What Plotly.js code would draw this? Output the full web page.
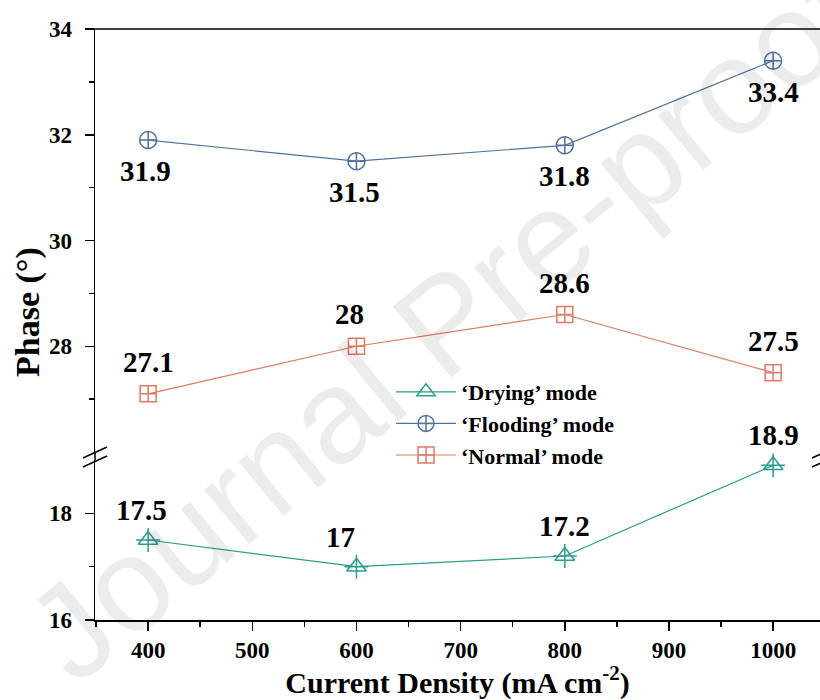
<!DOCTYPE html>
<html>
<head>
<meta charset="utf-8">
<script src="https://cdn.plot.ly/plotly-3.0.1.min.js"></script>
<style>html,body{margin:0;padding:0;background:#fff;}#chart{width:820px;height:700px;}</style>
</head>
<body>
<div id="chart"></div>
<script>
// Data
const currentDensity = [400, 600, 800, 1000];
const drying = [17.5, 17.0, 17.2, 18.9];
const flooding = [31.9, 31.5, 31.8, 33.4];
const normal = [27.1, 28.0, 28.6, 27.5];
const dryingLabels = ['17.5', '17', '17.2', '18.9'];
const floodingLabels = ['31.9', '31.5', '31.8', '33.4'];
const normalLabels = ['27.1', '28', '28.6', '27.5'];
const seriesNames = ['\u2018Drying\u2019 mode', '\u2018Flooding\u2019 mode', '\u2018Normal\u2019 mode'];
const xTicks = [400, 500, 600, 700, 800, 900, 1000];
const yLowTicks = [16, 18];
const yHighTicks = [28, 30, 32, 34];

// Styles (label offsets in px)
const dryShiftX = [-7, -16, 0, 0];
const floodShiftX = [-3, -2, 0, 0];
const normShiftX = [0, -7, 0, 0];

const cDry = '#2a9d8f', cFlood = '#4f72a0', cNorm = '#e07a62';
const serif = 'Liberation Serif, Times New Roman, serif';
const lblFont = {family: serif, size: 29, color: '#000', weight: 'bold'};

const traces = [
  {x: currentDensity, y: drying, name: seriesNames[0], mode: 'lines+markers',
   line: {color: cDry, width: 1.2},
   marker: {symbol: 'triangle-up-open', size: 17, color: cDry, line: {width: 1.5, color: cDry}},
   xaxis: 'x', yaxis: 'y', cliponaxis: false},
  {x: currentDensity, y: drying, mode: 'markers', showlegend: false, hoverinfo: 'skip',
   marker: {symbol: 'cross-thin-open', size: 17, color: cDry, line: {width: 1.5, color: cDry}},
   xaxis: 'x', yaxis: 'y', cliponaxis: false},
  {x: currentDensity, y: flooding, name: seriesNames[1], mode: 'lines+markers',
   line: {color: cFlood, width: 1.2},
   marker: {symbol: 'circle-cross-open', size: 17, color: cFlood, line: {width: 1.5, color: cFlood}},
   xaxis: 'x', yaxis: 'y2', cliponaxis: false},
  {x: currentDensity, y: normal, name: seriesNames[2], mode: 'lines+markers',
   line: {color: cNorm, width: 1.2},
   marker: {symbol: 'square-cross-open', size: 16, color: cNorm, line: {width: 1.5, color: cNorm}},
   xaxis: 'x', yaxis: 'y2', cliponaxis: false}
];

const L = 95, T = 29, W = 725, H = 591;
const px = v => (v - L) / W;
const py = v => (T + H - v) / H;
const tickFont = {family: serif, size: 23, color: '#000', weight: 'bold'};

const annotations = [
  {text: 'Phase (\u00b0)', xref: 'paper', yref: 'paper', x: px(28), y: py(312), xanchor: 'center', yanchor: 'middle', textangle: -90,
   showarrow: false, font: {family: serif, size: 34, color: '#000', weight: 'bold'}},
  {text: 'Journal Pre-proof', xref: 'paper', yref: 'paper', x: px(445), y: py(322), xanchor: 'center', yanchor: 'middle', textangle: -39.5,
   showarrow: false, font: {family: 'Liberation Sans, Arial, sans-serif', size: 134, color: 'rgba(0,0,0,0.075)'}}
];
function addLabels(xs, ys, labels, yaxis, yshift, xshifts) {
  xs.forEach((xv, i) => annotations.push({
    x: xv, y: ys[i], xref: 'x', yref: yaxis, text: labels[i], showarrow: false,
    xanchor: 'center', yanchor: 'middle', yshift: yshift, xshift: xshifts[i], font: lblFont
  }));
}
addLabels(currentDensity, drying, dryingLabels, 'y', 30, dryShiftX);
addLabels(currentDensity, flooding, floodingLabels, 'y2', -31, floodShiftX);
addLabels(currentDensity, normal, normalLabels, 'y2', 32, normShiftX);

const layout = {
  width: 820, height: 700,
  margin: {l: 95, r: 0, t: 29, b: 80},
  paper_bgcolor: '#fff', plot_bgcolor: 'rgba(0,0,0,0)',
  showlegend: true,
  legend: {x: px(391), y: py(371), xanchor: 'left', yanchor: 'top',
    bgcolor: 'rgba(0,0,0,0)', font: {family: serif, size: 22, color: '#000', weight: 'bold'},
    tracegroupgap: 0, itemwidth: 60},
  xaxis: {range: [349, 1045], anchor: 'y', showgrid: false, zeroline: false,
    showline: true, linecolor: '#000', linewidth: 1.5,
    tickmode: 'array', tickvals: xTicks, ticks: 'outside', ticklen: 9, tickwidth: 1.5, tickcolor: '#000',
    minor: {dtick: 50, ticks: 'outside', ticklen: 5, tickwidth: 1.5, tickcolor: '#000', tick0: 350},
    tickfont: tickFont,
    title: {text: 'Current Density (mA cm<sup>-2</sup>)', font: {family: serif, size: 30, color: '#000', weight: 'bold'}, standoff: 4}},
  yaxis: {domain: [0, 160 / 591], range: [16, 19], anchor: 'x', showgrid: false, zeroline: false,
    showline: true, linecolor: '#000', linewidth: 1.5, ticklabelstandoff: 8,
    tickmode: 'array', tickvals: yLowTicks, ticks: 'outside', ticklen: 9, tickwidth: 1.5, tickcolor: '#000',
    minor: {tickvals: [17], ticks: 'outside', ticklen: 5, tickwidth: 1.5, tickcolor: '#000'},
    tickfont: tickFont},
  yaxis2: {domain: [(620 - 452) / 591, 1], range: [26, 34], anchor: 'x', showgrid: false, zeroline: false,
    showline: true, linecolor: '#000', linewidth: 1.5, ticklabelstandoff: 8,
    tickmode: 'array', tickvals: yHighTicks, ticks: 'outside', ticklen: 9, tickwidth: 1.5, tickcolor: '#000',
    minor: {tickvals: [27, 29, 31, 33], ticks: 'outside', ticklen: 5, tickwidth: 1.5, tickcolor: '#000'},
    tickfont: tickFont},
  shapes: [
    {type: 'line', xref: 'paper', yref: 'paper', x0: px(85), x1: 1.05, y0: 1, y1: 1, line: {color: '#000', width: 1.5}},
    {type: 'line', xref: 'paper', yref: 'paper', x0: 0, x1: 0, y0: py(452), y1: py(460), line: {color: '#000', width: 1.5}},
    {type: 'line', xref: 'paper', yref: 'paper', x0: px(83), x1: px(107), y0: py(458), y1: py(447), line: {color: '#000', width: 1.5}},
    {type: 'line', xref: 'paper', yref: 'paper', x0: px(83), x1: px(107), y0: py(467), y1: py(456), line: {color: '#000', width: 1.5}},
    {type: 'line', xref: 'paper', yref: 'paper', x0: px(812), x1: px(836), y0: py(458), y1: py(447), line: {color: '#000', width: 1.5}},
    {type: 'line', xref: 'paper', yref: 'paper', x0: px(812), x1: px(836), y0: py(467), y1: py(456), line: {color: '#000', width: 1.5}}
  ],
  annotations: annotations
};

Plotly.newPlot('chart', traces, layout, {displayModeBar: false, staticPlot: true});
</script>
</body>
</html>
